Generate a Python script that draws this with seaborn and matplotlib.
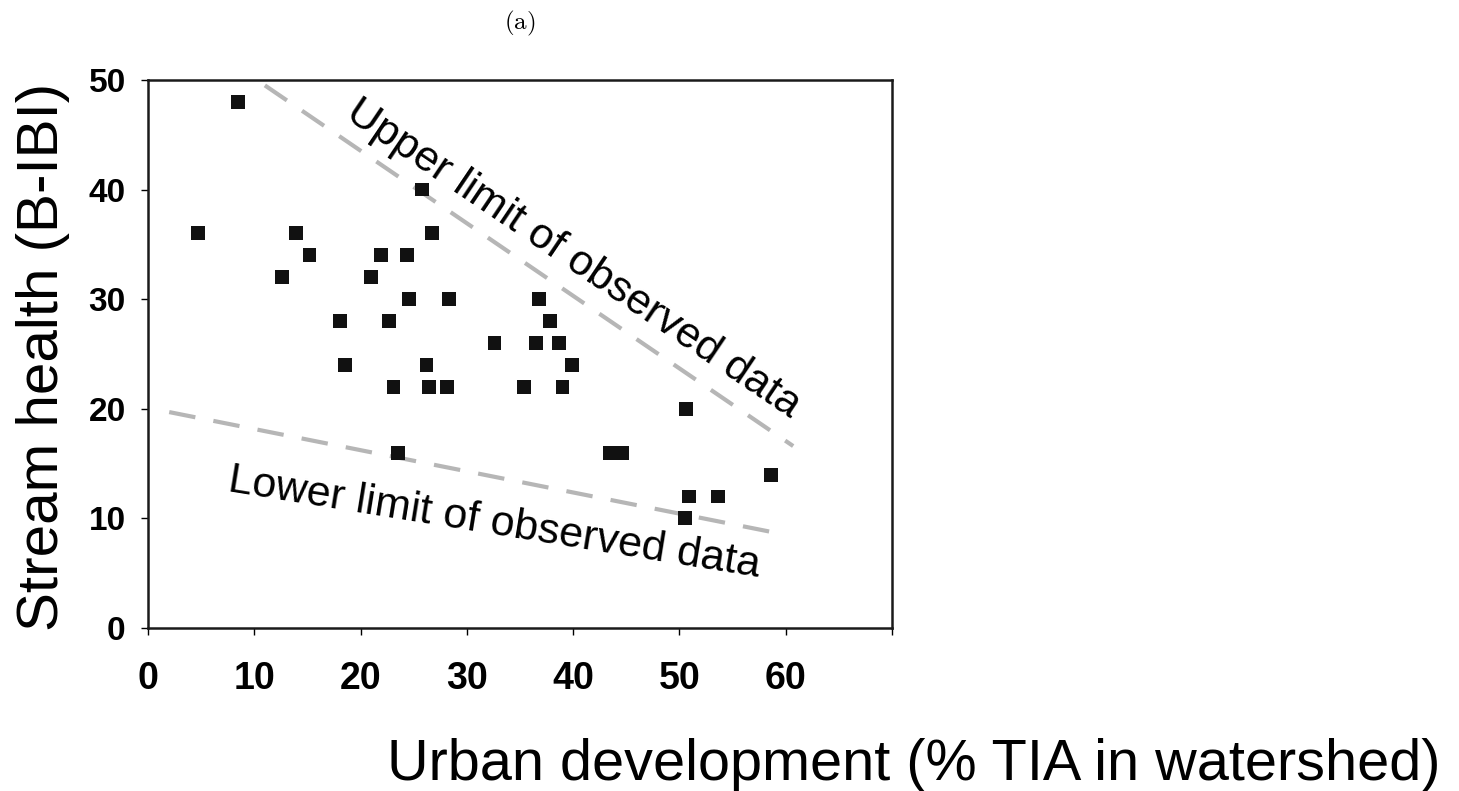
import matplotlib
matplotlib.use("Agg")
import matplotlib.pyplot as plt
import numpy as np
import pandas as pd
import seaborn as sns

# % TIA in watershed vs B-IBI score
tia = [8.5, 4.7, 13.9, 15.2, 12.6, 21.9, 24.4, 21.0, 25.8, 26.7,
       24.6, 28.3, 18.1, 22.7, 18.5, 26.2, 23.1, 26.4, 28.1, 23.5,
       32.6, 36.8, 37.8, 36.5, 38.7, 39.9, 35.4, 39.0, 50.6, 43.5,
       44.6, 50.9, 53.6, 50.5, 58.6]
bibi = [48, 36, 36, 34, 32, 34, 34, 32, 40, 36,
        30, 30, 28, 28, 24, 24, 22, 22, 22, 16,
        26, 30, 28, 26, 26, 24, 22, 22, 20, 16,
        16, 12, 12, 10, 14]

upper_x = [11.0, 60.7]
upper_y = [49.5, 16.6]
lower_x = [2.0, 59.0]
lower_y = [19.7, 8.7]

xticks = [0, 10, 20, 30, 40, 50, 60, 70]
xticklabels = ["0", "10", "20", "30", "40", "50", "60", ""]
yticks = [0, 10, 20, 30, 40, 50]

sns.set_style("ticks")
plt.rcParams['font.family'] = ['Liberation Sans', 'DejaVu Sans']
plt.rcParams['mathtext.fontset'] = 'cm'
plt.rcParams['text.color'] = 'black'

fig = plt.figure(figsize=(14.59, 7.91), dpi=100)
ax = fig.add_axes([0.1014, 0.206, 0.51, 0.693])

df = pd.DataFrame({"tia": tia, "bibi": bibi})
lines = pd.DataFrame({"x": upper_x + lower_x, "y": upper_y + lower_y,
                      "which": ["upper", "upper", "lower", "lower"]})

sns.lineplot(data=lines, x="x", y="y", units="which", estimator=None,
             color="#b6b6b6", linewidth=3.0, ax=ax, sort=False)
for l in ax.get_lines():
    l.set_dashes([6.4, 4.4])
    l.set_dash_capstyle("butt")

sns.scatterplot(data=df, x="tia", y="bibi", marker="s", s=100, color="#111111",
                edgecolor="none", ax=ax, zorder=3)

ax.set_xlim(0, 70)
ax.set_ylim(0, 50)
ax.set_xticks(xticks)
ax.set_xticklabels(xticklabels)
ax.set_yticks(yticks)
for lab in ax.get_xticklabels():
    lab.set_fontweight("bold")
    lab.set_fontsize(27)
    lab.set_color("black")
for lab in ax.get_yticklabels():
    lab.set_fontweight("bold")
    lab.set_fontsize(24)
    lab.set_color("black")
ax.tick_params(axis="x", direction="out", length=5, width=1, pad=19, color="black")
ax.tick_params(axis="y", direction="out", length=5, width=1, pad=11, color="black")
for sp in ax.spines.values():
    sp.set_visible(True)
    sp.set_linewidth(1.8)
    sp.set_color("#1a1a1a")

ax.set_xlabel("")
ax.set_ylabel("")
fig.text(0.0295, 0.549, "Stream health (B-IBI)", fontsize=42, rotation=90,
         ha="center", va="center")
fig.text(0.987, 0.0145, "Urban development (% TIA in watershed)", fontsize=41.5,
         ha="right", va="baseline")
ax.set_title(r"$\mathrm{(a)}$", fontsize=18, pad=36)

ax.text(39.4, 32.8, "Upper limit of observed data", fontsize=31,
        rotation=-34, rotation_mode="anchor", ha="center", va="baseline")
ax.text(32.4, 8.6, "Lower limit of observed data", fontsize=31,
        rotation=-9.2, rotation_mode="anchor", ha="center", va="baseline")

fig.savefig("out.png", dpi=100, facecolor="white")
